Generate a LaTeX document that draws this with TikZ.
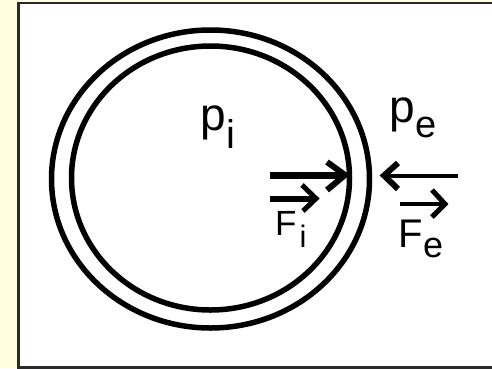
\documentclass[tikz,border=0pt]{standalone}
\usepackage{fontspec}
\setmainfont{Liberation Sans}
\definecolor{paleyellow}{HTML}{FFFFDE}
\definecolor{framegray}{HTML}{2A2A2A}
\begin{document}
\begin{tikzpicture}[x=1pt,y=-1pt,
  lbl/.style={inner sep=0pt, anchor=base west},
  ring/.style={line width=5.5pt},
  shaft/.style={line cap=butt},
  chev/.style={line join=miter, line cap=butt}]
\useasboundingbox (0,0) rectangle (492,368);
\fill[paleyellow] (0,0) rectangle (492,368);
\fill[white] (18,3) rectangle (492,367);
\draw[framegray, line width=2.5pt] (493,3) -- (18.5,3) -- (18.5,367.5) -- (493,367.5);
% rings
\draw[ring] (210.5,179) ellipse [x radius=159, y radius=149];
\draw[ring] (210.5,178) ellipse [x radius=139, y radius=132];
% labels
\node[lbl, font=\fontsize{46}{46}\selectfont] (pi) at (200,130) {p};
\node[lbl, font=\fontsize{40}{40}\selectfont] (pisub) at (226,148) {i};
\node[lbl, font=\fontsize{46}{46}\selectfont] (pe) at (389,122) {p};
\node[lbl, font=\fontsize{38}{38}\selectfont] (pesub) at (415,137) {e};
\node[lbl, font=\fontsize{35}{35}\selectfont] (fi) at (275,235) {F};
\node[lbl, font=\fontsize{31}{31}\selectfont] (fisub) at (299.5,247) {i};
\node[lbl, font=\fontsize{40}{40}\selectfont] (fe) at (398.5,247) {F};
\node[lbl, font=\fontsize{36}{36}\selectfont] (fesub) at (423,257) {e};
% internal force arrow
\coordinate (a1s) at (270,175);
\coordinate (a1e) at (345,175);
\draw[shaft, line width=7pt] (a1s) -- (a1e);
\draw[chev, line width=6pt] (327,162) -- (a1e) -- (327,190);
% vector arrow over F_i
\coordinate (v1s) at (270,198.5);
\coordinate (v1e) at (316,198.5);
\draw[shaft, line width=6pt] (v1s) -- (v1e);
\draw[chev, line width=5pt] (302,185) -- (v1e) -- (303,211);
% external force arrow
\coordinate (a2s) at (458,175.5);
\coordinate (a2e) at (384,175.5);
\draw[shaft, line width=4pt] (a2s) -- (a2e);
\draw[chev, line width=6pt] (398,163) -- (a2e) -- (398,189);
% vector arrow over F_e
\coordinate (v2s) at (400,204);
\coordinate (v2e) at (445,204);
\draw[shaft, line width=4pt] (v2s) -- (v2e);
\draw[chev, line width=5pt] (432,190) -- (v2e) -- (432,217);
\end{tikzpicture}
\end{document}
